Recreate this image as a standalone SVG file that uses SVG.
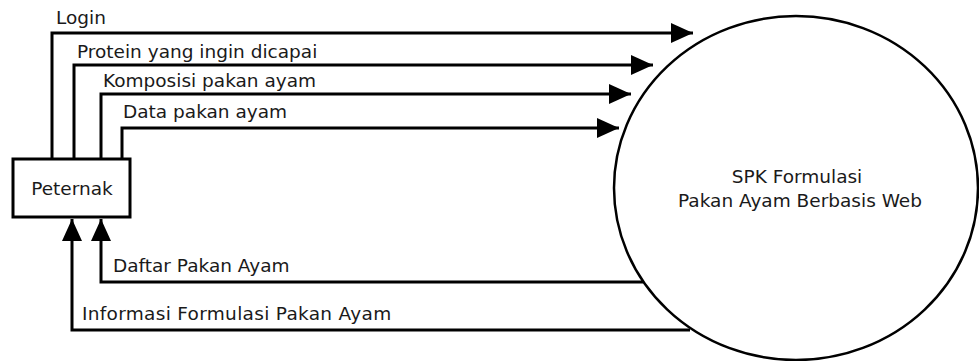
<svg xmlns="http://www.w3.org/2000/svg" width="979" height="361" viewBox="0 0 979 361">
<style>
.t{font-family:"DejaVu Sans",Verdana,sans-serif;font-size:18.5px;fill:#1a1a1a}
.c{fill:none;stroke:#000;stroke-width:3}
</style>
<defs>
<marker id="ah" viewBox="0 0 22 20" refX="22" refY="10" markerWidth="22" markerHeight="20" markerUnits="userSpaceOnUse" orient="auto">
<path d="M0,0 L22,10 L0,20 Z" fill="#000"/>
</marker>
</defs>
<rect width="979" height="361" fill="#fff"/>
<g id="connectors">
<path class="c" d="M52,159 V33 H693" marker-end="url(#ah)"/>
<path class="c" d="M74,159 V65 H653" marker-end="url(#ah)"/>
<path class="c" d="M101,159 V94 H631" marker-end="url(#ah)"/>
<path class="c" d="M122,159 V128 H619" marker-end="url(#ah)"/>
<path class="c" d="M643,282 H101 V219" marker-end="url(#ah)"/>
<path class="c" d="M690,330 H72 V219" marker-end="url(#ah)"/>
<text class="t" x="56" y="24">Login</text>
<text class="t" x="77" y="58">Protein yang ingin dicapai</text>
<text class="t" x="103" y="87">Komposisi pakan ayam</text>
<text class="t" x="123" y="118">Data pakan ayam</text>
<text class="t" x="113" y="272">Daftar Pakan Ayam</text>
<text class="t" x="82" y="320" letter-spacing="0.3">Informasi Formulasi Pakan Ayam</text>
</g>
<g id="peternak">
<rect x="13" y="159" width="117" height="58" fill="#fff" stroke="#000" stroke-width="3"/>
<text class="t" x="72" y="195" text-anchor="middle">Peternak</text>
</g>
<g id="spk">
<ellipse cx="796" cy="188" rx="182" ry="172" fill="#fff" stroke="#000" stroke-width="2.5"/>
<text class="t" x="797" y="183" text-anchor="middle">SPK Formulasi</text>
<text class="t" x="800" y="207" text-anchor="middle">Pakan Ayam Berbasis Web</text>
</g>
</svg>
